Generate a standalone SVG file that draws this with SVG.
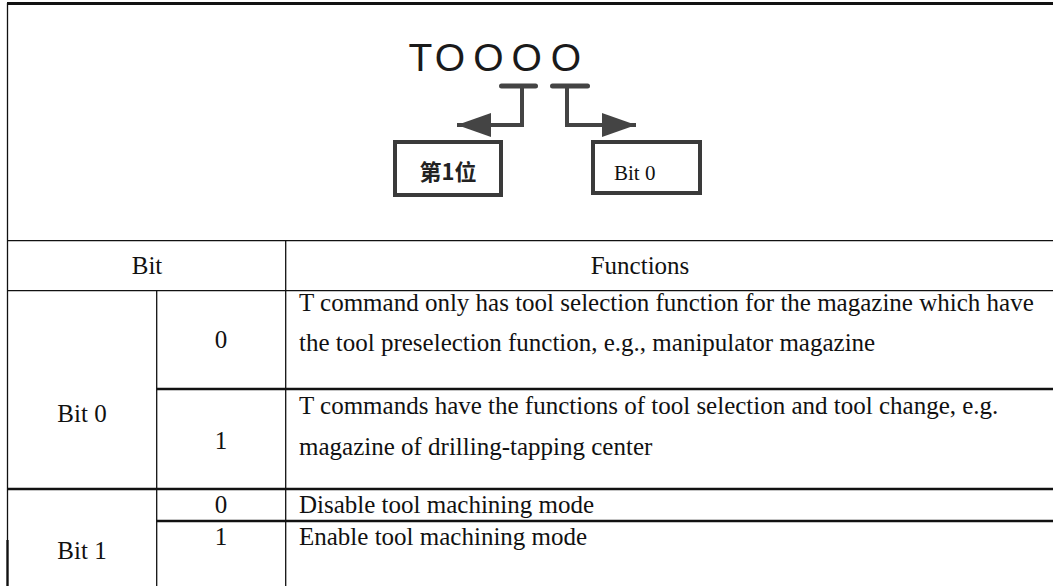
<svg xmlns="http://www.w3.org/2000/svg" width="1053" height="586" viewBox="0 0 1053 586">
  <style>
    .cell { font-family: "Liberation Serif", "Times New Roman", serif; font-size: 25px; fill: #111; }
    .mid { text-anchor: middle; }
    .rule { stroke: #111; fill: none; }
    .thin { stroke-width: 1.3; }
    .thick { stroke-width: 2.4; }
    .code { font-family: "Liberation Sans", Arial, sans-serif; font-size: 39px; fill: #1a1a1a; text-anchor: middle; }
    .box { fill: #fff; stroke: #3a3a3a; stroke-width: 4; }
    .bar { stroke: #444; stroke-width: 5; stroke-linecap: round; }
    .conn { stroke: #444; stroke-width: 4; fill: none; }
  </style>
  <defs>
    <marker id="arrow" markerUnits="userSpaceOnUse" markerWidth="36" markerHeight="24" refX="34" refY="12" orient="auto">
      <path d="M0,0 L34,12 L0,24 Z" fill="#444"/>
    </marker>
  </defs>

  <rect width="1053" height="586" fill="#fff"/>

  <!-- table rules -->
  <g id="table-grid">
    <line class="rule" x1="7" y1="3.5" x2="1053" y2="3.5" stroke-width="3"/>
    <line class="rule thin" x1="7.5" y1="3" x2="7.5" y2="540" stroke="#555"/>
    <line class="rule thick" x1="7.5" y1="540" x2="7.5" y2="586"/>
    <line class="rule thin" x1="7" y1="240.7" x2="1053" y2="240.7"/>
    <line class="rule thin" x1="7" y1="290.7" x2="1053" y2="290.7"/>
    <line class="rule thin" x1="285.7" y1="240.7" x2="285.7" y2="586" stroke="#444"/>
    <line class="rule thin" x1="156.7" y1="290.7" x2="156.7" y2="586" stroke="#444"/>
    <line class="rule thick" x1="156.7" y1="389" x2="1053" y2="389"/>
    <line class="rule thick" x1="7" y1="489" x2="1053" y2="489"/>
    <line class="rule thick" x1="156.7" y1="521" x2="1053" y2="521"/>
  </g>

  <!-- T-code figure -->
  <g id="code-word">
    <text class="code" x="420.5 450 488.5 526.7 565.8" y="71">TOOOO</text>
  </g>
  <g id="digit-bars">
    <line class="bar" x1="501.5" y1="86" x2="535.5" y2="86"/>
    <line class="bar" x1="552.5" y1="86" x2="587.5" y2="86"/>
  </g>
  <g id="connectors">
    <path class="conn" d="M522,86 V125 H457" marker-end="url(#arrow)"/>
    <path class="conn" d="M567,86 V125 H636" marker-end="url(#arrow)"/>
  </g>
  <g id="node-first-digit">
    <rect class="box" x="395" y="142" width="106" height="53"/>
    <text x="448" y="180" text-anchor="middle" font-family="'Noto Sans CJK SC', sans-serif" font-weight="700" font-size="22" fill="#222">第1位</text>
  </g>
  <g id="node-bit0">
    <rect class="box" x="593" y="142" width="107" height="51"/>
    <text x="614" y="180" font-family="'Liberation Serif', 'Times New Roman', serif" font-size="21" fill="#111">Bit 0</text>
  </g>

  <!-- table texts -->
  <g id="header-row">
    <text class="cell mid" x="147" y="274">Bit</text>
    <text class="cell mid" x="640" y="274">Functions</text>
  </g>
  <g id="row-bit0">
    <text class="cell mid" x="82" y="422">Bit 0</text>
    <text class="cell mid" x="221" y="348">0</text>
    <text class="cell" x="299" y="311">T command only has tool selection function for the magazine which have</text>
    <text class="cell" x="299" y="351">the tool preselection function, e.g., manipulator magazine</text>
    <text class="cell mid" x="221" y="449">1</text>
    <text class="cell" x="299" y="414">T commands have the functions of tool selection and tool change, e.g.</text>
    <text class="cell" x="299" y="455">magazine of drilling-tapping center</text>
  </g>
  <g id="row-bit1">
    <text class="cell mid" x="82" y="559">Bit 1</text>
    <text class="cell mid" x="221" y="513">0</text>
    <text class="cell" x="299" y="513">Disable tool machining mode</text>
    <text class="cell mid" x="221" y="545">1</text>
    <text class="cell" x="299" y="545">Enable tool machining mode</text>
  </g>
</svg>
